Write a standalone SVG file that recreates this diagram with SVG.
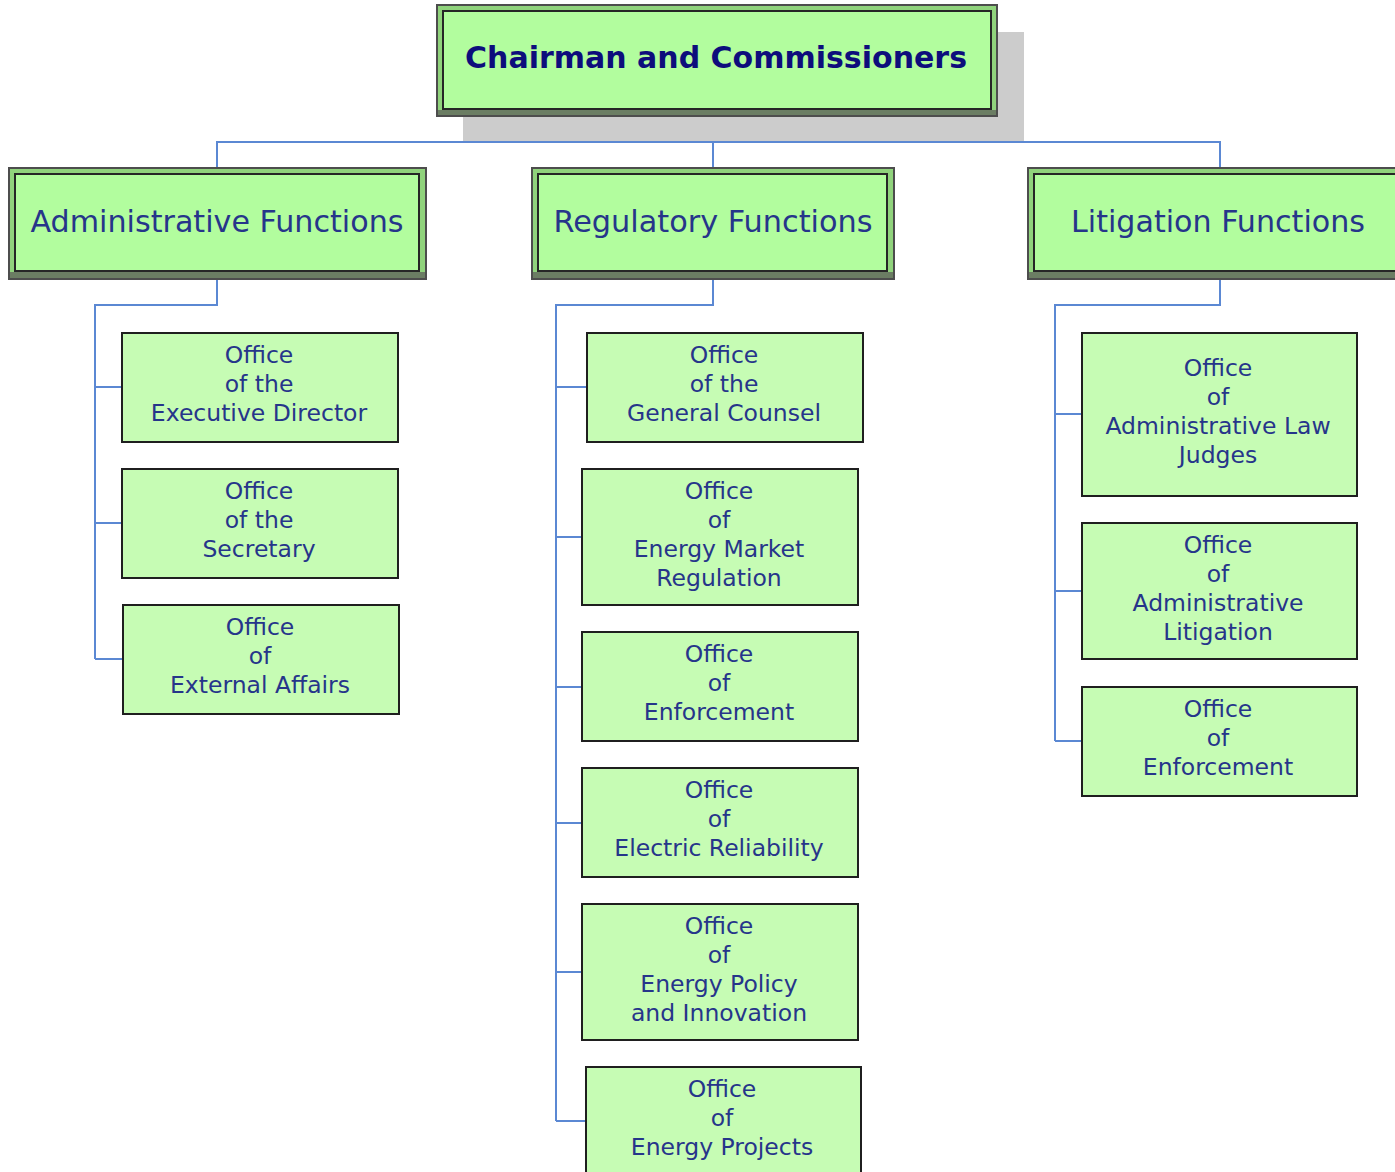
<svg xmlns="http://www.w3.org/2000/svg" width="1395" height="1172" viewBox="0 0 1395 1172">
<style>
.outer{fill:#90d37c;stroke:#4d4d4d;stroke-width:2}
.inner{fill:#b2fd9e;stroke:#262626;stroke-width:2}
.band{fill:#6b7d63}
.leaf{fill:#c6fcb4;stroke:#1f1f1f;stroke-width:2}
.shadow{fill:#cccccc}
.t{font-family:"DejaVu Sans","Verdana",sans-serif;fill:#26358a;text-anchor:middle}
.title{font-size:30px;font-weight:bold;fill:#0d0d7c}
.mid{font-size:30px}
.lf{font-size:23.5px}
.conn{fill:none;stroke:#5b88d3;stroke-width:2}
</style>
<rect width="1395" height="1172" fill="#ffffff"/>

<g id="connectors">
<path class="conn" d="M716 116V142M217 168V142H1220V168M713 142V168"/>
<path class="conn" d="M217 279V305H95V659M95 387H122M95 523H122M95 659H123"/>
<path class="conn" d="M713 279V305H556V1121M556 387H587M556 537H582M556 687H582M556 823H582M556 972H582M556 1121H586"/>
<path class="conn" d="M1220 279V305H1055V741M1055 414H1082M1055 591H1082M1055 741H1082"/>
</g>

<g id="chairman">
<rect class="shadow" x="463" y="32" width="561" height="109"/>
<rect class="outer" x="437" y="5" width="560" height="111"/>
<rect class="band" x="438" y="110" width="558" height="5"/>
<rect class="inner" x="443" y="11" width="548" height="98"/>
<text class="t title" x="716" y="68" textLength="502" lengthAdjust="spacingAndGlyphs">Chairman and Commissioners</text>
</g>

<g id="admin-functions">
<rect class="outer" x="9" y="168" width="417" height="111"/>
<rect class="band" x="10" y="272" width="415" height="6"/>
<rect class="inner" x="15" y="174" width="404" height="97"/>
<text class="t mid" x="217" y="232" textLength="373" lengthAdjust="spacingAndGlyphs">Administrative Functions</text>
</g>

<g id="regulatory-functions">
<rect class="outer" x="532" y="168" width="362" height="111"/>
<rect class="band" x="533" y="272" width="360" height="6"/>
<rect class="inner" x="538" y="174" width="349" height="97"/>
<text class="t mid" x="713" y="232" textLength="319" lengthAdjust="spacingAndGlyphs">Regulatory Functions</text>
</g>

<g id="litigation-functions">
<rect class="outer" x="1028" y="168" width="380" height="111"/>
<rect class="band" x="1029" y="272" width="378" height="6"/>
<rect class="inner" x="1034" y="174" width="370" height="97"/>
<text class="t mid" x="1218" y="232" textLength="294" lengthAdjust="spacingAndGlyphs">Litigation Functions</text>
</g>

<g id="office-executive-director">
<rect class="leaf" x="122" y="333" width="276" height="109"/>
<text class="t lf" x="260"><tspan x="259" y="363">Office</tspan><tspan x="259" y="392">of the</tspan><tspan x="259" y="421">Executive Director</tspan></text>
</g>
<g id="office-secretary">
<rect class="leaf" x="122" y="469" width="276" height="109"/>
<text class="t lf"><tspan x="259" y="499">Office</tspan><tspan x="259" y="528">of the</tspan><tspan x="259" y="557">Secretary</tspan></text>
</g>
<g id="office-external-affairs">
<rect class="leaf" x="123" y="605" width="276" height="109"/>
<text class="t lf"><tspan x="260" y="635">Office</tspan><tspan x="260" y="664">of</tspan><tspan x="260" y="693">External Affairs</tspan></text>
</g>

<g id="office-general-counsel">
<rect class="leaf" x="587" y="333" width="276" height="109"/>
<text class="t lf"><tspan x="724" y="363">Office</tspan><tspan x="724" y="392">of the</tspan><tspan x="724" y="421">General Counsel</tspan></text>
</g>
<g id="office-energy-market-regulation">
<rect class="leaf" x="582" y="469" width="276" height="136"/>
<text class="t lf"><tspan x="719" y="499">Office</tspan><tspan x="719" y="528">of</tspan><tspan x="719" y="557">Energy Market</tspan><tspan x="719" y="586">Regulation</tspan></text>
</g>
<g id="office-enforcement-reg">
<rect class="leaf" x="582" y="632" width="276" height="109"/>
<text class="t lf"><tspan x="719" y="662">Office</tspan><tspan x="719" y="691">of</tspan><tspan x="719" y="720">Enforcement</tspan></text>
</g>
<g id="office-electric-reliability">
<rect class="leaf" x="582" y="768" width="276" height="109"/>
<text class="t lf"><tspan x="719" y="798">Office</tspan><tspan x="719" y="827">of</tspan><tspan x="719" y="856">Electric Reliability</tspan></text>
</g>
<g id="office-energy-policy">
<rect class="leaf" x="582" y="904" width="276" height="136"/>
<text class="t lf"><tspan x="719" y="934">Office</tspan><tspan x="719" y="963">of</tspan><tspan x="719" y="992">Energy Policy</tspan><tspan x="719" y="1021">and Innovation</tspan></text>
</g>
<g id="office-energy-projects">
<rect class="leaf" x="586" y="1067" width="275" height="120"/>
<text class="t lf"><tspan x="722" y="1097">Office</tspan><tspan x="722" y="1126">of</tspan><tspan x="722" y="1155">Energy Projects</tspan></text>
</g>

<g id="office-administrative-law-judges">
<rect class="leaf" x="1082" y="333" width="275" height="163"/>
<text class="t lf"><tspan x="1218" y="376">Office</tspan><tspan x="1218" y="405">of</tspan><tspan x="1218" y="434">Administrative Law</tspan><tspan x="1218" y="463">Judges</tspan></text>
</g>
<g id="office-administrative-litigation">
<rect class="leaf" x="1082" y="523" width="275" height="136"/>
<text class="t lf"><tspan x="1218" y="553">Office</tspan><tspan x="1218" y="582">of</tspan><tspan x="1218" y="611">Administrative</tspan><tspan x="1218" y="640">Litigation</tspan></text>
</g>
<g id="office-enforcement-lit">
<rect class="leaf" x="1082" y="687" width="275" height="109"/>
<text class="t lf"><tspan x="1218" y="717">Office</tspan><tspan x="1218" y="746">of</tspan><tspan x="1218" y="775">Enforcement</tspan></text>
</g>
</svg>
